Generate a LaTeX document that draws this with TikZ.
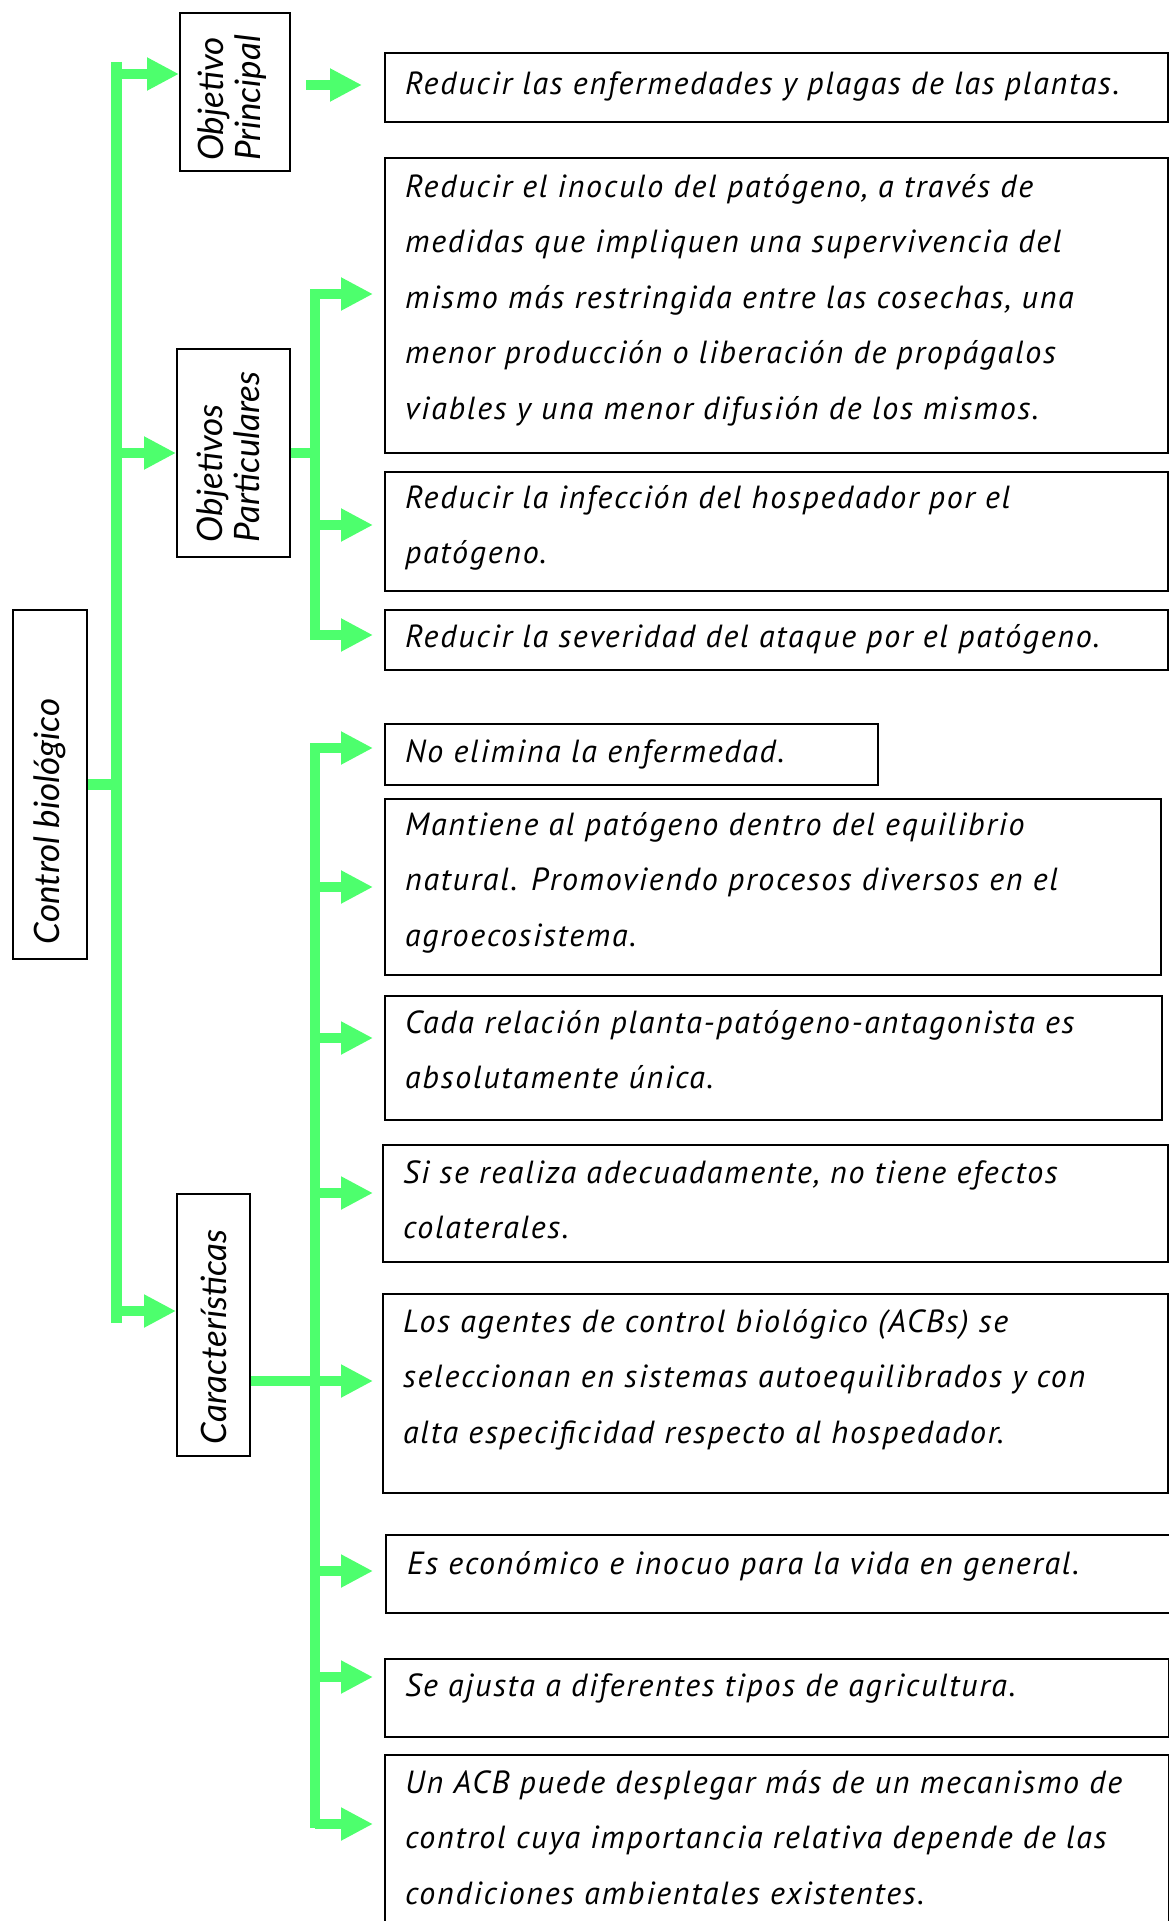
\documentclass[tikz,border=0pt]{standalone}
\usepackage{fontspec}
\setmainfont{PT Sans}
\newfontfamily\bodyfont[LetterSpace=5.4]{PT Sans}
\newfontfamily\lblfont{Lato}
\usetikzlibrary{arrows.meta,calc}
\definecolor{grn}{RGB}{77,255,109}
\begin{document}
\begin{tikzpicture}[x=1pt,y=-1pt,
  box/.style={draw=black, line width=2pt, inner sep=0pt, anchor=north west},
  txt/.style={anchor=base west, inner sep=0pt, font=\bodyfont\fontsize{32}{55.5}\selectfont\itshape},
  lbl/.style={font=\lblfont\fontsize{35}{37}\selectfont\itshape},
  gline/.style={draw=grn, line width=10.5pt},
  garrow/.style={draw=grn, line width=10.5pt, -{Triangle[length=32pt,width=31pt]}},
]
\useasboundingbox[fill=white] (0,0) rectangle (1169,1921);

% left label boxes
\node[box, lbl, minimum width=110pt, minimum height=158pt] (objp) at (179,12)
  {\rotatebox{90}{\makebox[158pt][l]{\hspace*{10pt}\begin{tabular}{@{}l@{}}Objetivo\\Principal\end{tabular}}}};
\node[box, lbl, minimum width=113pt, minimum height=208pt] (objpart) at (176,348)
  {\rotatebox{90}{\makebox[208pt][l]{\hspace*{15pt}\begin{tabular}{@{}l@{}}Objetivos\\Particulares\end{tabular}}}};
\node[box, lbl, minimum width=73pt, minimum height=262pt] (caract) at (176,1193)
  {\rotatebox{90}{\makebox[262pt][l]{\hspace*{12pt}Características}}};
\node[box, lbl, minimum width=74pt, minimum height=349pt] (ctrl) at (12,609)
  {\rotatebox{90}{\makebox[349pt][l]{\hspace*{15pt}Control biológico}}};

% right boxes
\node[box, minimum width=783pt, minimum height=69pt]  (b1)  at (384,52) {};
\node[box, minimum width=783pt, minimum height=295pt] (b2)  at (384,157) {};
\node[box, minimum width=783pt, minimum height=119pt] (b3)  at (384,471) {};
\node[box, minimum width=783pt, minimum height=60pt]  (b4)  at (384,609) {};
\node[box, minimum width=493pt, minimum height=61pt]  (b5)  at (384,723) {};
\node[box, minimum width=776pt, minimum height=176pt] (b6)  at (384,798) {};
\node[box, minimum width=777pt, minimum height=124pt] (b7)  at (384,995) {};
\node[box, minimum width=785pt, minimum height=117pt] (b8)  at (382,1144) {};
\node[box, minimum width=785pt, minimum height=199pt] (b9)  at (382,1293) {};
\node[box, minimum width=784pt, minimum height=78pt]  (b10) at (385,1534) {};
\node[box, minimum width=784pt, minimum height=78pt]  (b11) at (384,1658) {};
\node[box, minimum width=784pt, minimum height=190pt] (b12) at (384,1754) {};

% texts
\node[txt] (t1) at (405,95) {\parbox[t]{760pt}{Reducir las enfermedades y plagas de las plantas.}};
\node[txt] (t2) at (405,197) {\parbox[t]{760pt}{Reducir el inoculo del patógeno, a través de\\medidas que impliquen una supervivencia del\\mismo más restringida entre las cosechas, una\\menor producción o liberación de propágalos\\viables y una menor difusión de los mismos.}};
\node[txt] (t3) at (405,508) {\parbox[t]{760pt}{Reducir la infección del hospedador por el\\patógeno.}};
\node[txt] (t4) at (405,647) {\parbox[t]{760pt}{Reducir la severidad del ataque por el patógeno.}};
\node[txt] (t5) at (405,762) {\parbox[t]{760pt}{No elimina la enfermedad.}};
\node[txt] (t6) at (405,835) {\parbox[t]{760pt}{Mantiene al patógeno dentro del equilibrio\\natural. Promoviendo procesos diversos en el\\agroecosistema.}};
\node[txt] (t7) at (405,1033) {\parbox[t]{760pt}{Cada relación planta-patógeno-antagonista es\\absolutamente única.}};
\node[txt] (t8) at (403,1183) {\parbox[t]{760pt}{Si se realiza adecuadamente, no tiene efectos\\colaterales.}};
\node[txt] (t9) at (403,1332) {\parbox[t]{760pt}{Los agentes de control biológico (ACBs) se\\seleccionan en sistemas autoequilibrados y con\\alta especificidad respecto al hospedador.}};
\node[txt] (t10) at (407,1574) {\parbox[t]{760pt}{Es económico e inocuo para la vida en general.}};
\node[txt] (t11) at (405,1696) {\parbox[t]{760pt}{Se ajusta a diferentes tipos de agricultura.}};
\node[txt] (t12) at (405,1793) {\parbox[t]{760pt}{Un ACB puede desplegar más de un mecanismo de\\control cuya importancia relativa depende de las\\condiciones ambientales existentes.}};

% main trunk
\coordinate (m1) at (116.5,62);
\coordinate (m2) at (116.5,1323);
\draw[gline] (m1) -- (m2);
\draw[gline] (ctrl.east) -- (ctrl.east -| m1);
\draw[garrow] (m1 |- 0,74) -- (objp.west |- 0,74);
\draw[garrow] (m1 |- objpart.west) -- (objpart.west);
\draw[garrow] (m1 |- 0,1311) -- (caract.west |- 0,1311);

% objetivo principal
\draw[garrow] ($(objp.east)+(15,-7)$) -- ($(b1.west)+(-22,-2.5)$);

% sub trunk 1
\coordinate (s1a) at (315,289);
\coordinate (s1b) at (315,640);
\draw[gline] (s1a) -- (s1b);
\draw[gline] (objpart.east) -- (objpart.east -| s1a);
\draw[garrow, shorten >=11pt] (s1a |- 0,294) -- (b2.west |- 0,294);
\draw[garrow, shorten >=11pt] (s1a |- 0,525) -- (b3.west |- 0,525);
\draw[garrow, shorten >=11pt] (s1a |- 0,635) -- (b4.west |- 0,635);

% sub trunk 2
\coordinate (s2a) at (315,743);
\coordinate (s2b) at (315,1828);
\draw[gline] (s2a) -- (s2b);
\draw[gline] (caract.east |- 0,1381) -- (s2a |- 0,1381);
\draw[garrow, shorten >=11pt] (s2a |- 0,748) -- (b5.west |- 0,748);
\draw[garrow, shorten >=11pt] (s2a |- 0,887) -- (b6.west |- 0,887);
\draw[garrow, shorten >=11pt] (s2a |- 0,1038) -- (b7.west |- 0,1038);
\draw[garrow, shorten >=9pt] (s2a |- 0,1193) -- (b8.west |- 0,1193);
\draw[garrow, shorten >=9pt] (s2a |- 0,1381) -- (b9.west |- 0,1381);
\draw[garrow, shorten >=12pt] (s2a |- 0,1571) -- (b10.west |- 0,1571);
\draw[garrow, shorten >=11pt] (s2a |- 0,1677) -- (b11.west |- 0,1677);
\draw[garrow, shorten >=11pt] (s2a |- 0,1824) -- (b12.west |- 0,1824);
\end{tikzpicture}
\end{document}
